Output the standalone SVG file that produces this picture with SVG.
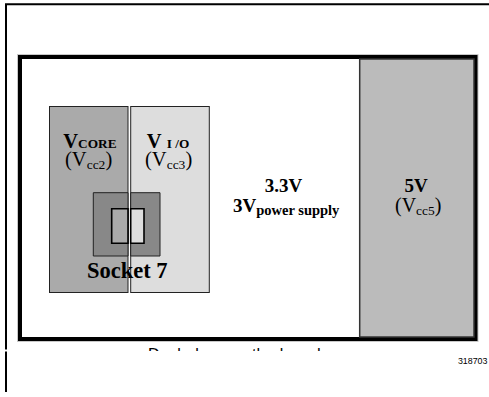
<svg xmlns="http://www.w3.org/2000/svg" width="489" height="397" viewBox="0 0 489 397">
<style>
.b{font-family:"Liberation Serif","Times New Roman",serif;font-weight:bold;fill:#000}
.r{font-family:"Liberation Serif","Times New Roman",serif;fill:#000}
.s{font-family:"Liberation Sans",Arial,sans-serif;fill:#000}
.edge{stroke:#222;stroke-width:1}
</style>
<defs>
<clipPath id="cap"><rect x="0" y="0" width="489" height="351"/></clipPath>
</defs>
<rect width="489" height="397" fill="#fff"/>
<g id="page-frame" fill="none" stroke="#000" stroke-width="2">
<path d="M6 392V351.5M6 349.5V4.3H489"/>
</g>
<g id="board">
<rect x="20" y="57" width="455.5" height="282" fill="#fff" stroke="#c8c8c8" stroke-width="6"/>
<rect x="20" y="57" width="455.5" height="282" fill="#fff" stroke="#000" stroke-width="4"/>
</g>
<g id="v5">
<rect x="359.7" y="59" width="114.3" height="278" fill="#bbbbbb" stroke="#333" stroke-width="1.5"/>
<text class="b" x="416" y="191.7" font-size="19" text-anchor="middle">5V</text>
<text class="r" x="395" y="211.7" font-size="20">(V<tspan font-size="13.5" dy="3">cc5</tspan><tspan dy="-3">)</tspan></text>
</g>
<g id="v33">
<text class="b" x="283.5" y="191.7" font-size="19" text-anchor="middle">3.3V</text>
<text class="b" x="233" y="211.7" font-size="19">3V<tspan font-size="14.5" dy="3">power supply</tspan></text>
</g>
<g id="vcore">
<rect x="49.5" y="106.5" width="78.5" height="186" fill="#aaaaaa" class="edge"/>
<text class="b" x="63.3" y="148" font-size="20.5">V<tspan font-size="13.3">CORE</tspan></text>
<text class="r" x="65" y="166" font-size="20.5">(V<tspan font-size="13.5" dy="3">cc2</tspan><tspan dy="-3">)</tspan></text>
</g>
<g id="vio">
<rect x="130.7" y="106.5" width="78.6" height="186" fill="#dddddd" class="edge"/>
<text class="b" x="146.7" y="148" font-size="20.5">V<tspan font-size="13.3" x="166.7">I /O</tspan></text>
<text class="r" x="145" y="166" font-size="20.5">(V<tspan font-size="13.5" dy="3">cc3</tspan><tspan dy="-3">)</tspan></text>
</g>
<g id="socket7">
<path d="M128 192.7H93.3V256H128Z" fill="#888888" class="edge"/>
<path d="M130.7 192.7H160V256H130.7Z" fill="#888888" class="edge"/>
<path d="M128 208.7H111.7V243.3H128Z" fill="#aaaaaa" stroke="#000" stroke-width="1.6"/>
<path d="M130.7 208.7H144V243.3H130.7Z" fill="#dddddd" stroke="#000" stroke-width="1.6"/>
<text class="b" x="87" y="278" font-size="22.5">Socket 7</text>
</g>
<g id="caption" clip-path="url(#cap)">
<text class="s" x="148" y="359.5" font-size="16">Dual-plane motherboard</text>
</g>
<text class="s" x="487.5" y="364" font-size="8.9" text-anchor="end">318703</text>
</svg>
